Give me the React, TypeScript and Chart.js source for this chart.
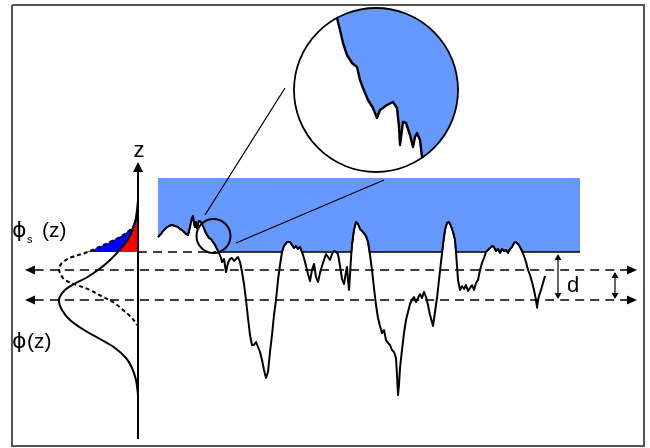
import { useEffect, useRef } from "react";
import { Chart, registerables } from "chart.js";

Chart.register(...registerables);

type P = { x: number; y: number };
const toPts = (a: number[][]): P[] => a.map(([x, y]) => ({ x, y }));

// Drawing units: x to the right, z (height) downward on screen, 650 x 448 field.
const FIELD_W = 650;
const FIELD_H = 448;

// Rough surface profile (x, screen height)
const PROFILE: number[][] = [
  [158, 237], [161, 234], [163, 231], [166, 228], [169, 226], [172, 225], [175, 226], [178, 227],
  [180, 229], [182, 230], [184, 232], [186, 234], [188, 235], [189, 231], [190, 227], [191, 222],
  [192, 218], [193, 216], [194, 224], [195, 227], [196, 222], [197, 228], [198, 224], [199, 221],
  [201, 222], [203, 226], [205, 231], [207, 235], [209, 238], [211, 239], [213, 242], [215, 245],
  [217, 249], [219, 253], [221, 258], [222, 262], [224, 259], [226, 272], [228, 263], [230, 259],
  [232, 258], [234, 261], [236, 259], [238, 257], [240, 262], [242, 272], [244, 284], [246, 300],
  [248, 318], [250, 335], [252, 345], [254, 345], [256, 342], [258, 347], [260, 352], [262, 360],
  [264, 370], [266, 378], [268, 372], [270, 352], [272, 335], [274, 315], [276, 300], [278, 280],
  [280, 265], [282, 252], [284, 246], [287, 242], [290, 242], [292, 245], [294, 248], [296, 246],
  [298, 249], [300, 247], [302, 252], [304, 258], [306, 266], [308, 274], [310, 281], [312, 270],
  [314, 264], [316, 277], [318, 282], [320, 273], [322, 266], [324, 260], [326, 254], [328, 257],
  [330, 260], [332, 254], [334, 251], [336, 252], [338, 254], [340, 266], [342, 279], [344, 284],
  [346, 272], [347, 267], [348, 280], [349, 290], [350, 275], [351, 258], [352, 245], [354, 230],
  [356, 222], [358, 224], [360, 229], [363, 232], [366, 236], [368, 242], [370, 255], [372, 270],
  [374, 288], [376, 305], [378, 318], [380, 326], [382, 333], [384, 330], [386, 340], [388, 343],
  [390, 345], [392, 350], [394, 352], [396, 358], [397, 375], [398, 395], [399, 385], [400, 368],
  [402, 350], [404, 333], [406, 320], [408, 312], [410, 304], [412, 300], [414, 297], [416, 302],
  [418, 298], [420, 294], [422, 298], [424, 292], [426, 297], [428, 305], [430, 315], [432, 322],
  [433, 326], [435, 312], [437, 298], [439, 280], [441, 262], [443, 245], [445, 230], [447, 223],
  [449, 222], [451, 226], [453, 232], [455, 240], [456, 252], [457, 266], [458, 280], [460, 290],
  [462, 286], [464, 289], [466, 285], [468, 291], [470, 288], [472, 285], [474, 290], [476, 283],
  [478, 280], [480, 270], [482, 263], [484, 258], [486, 252], [488, 250], [490, 248], [492, 246],
  [494, 247], [496, 251], [498, 249], [500, 253], [502, 249], [504, 251], [506, 250], [508, 253],
  [510, 249], [512, 247], [514, 243], [516, 242], [518, 244], [520, 247], [522, 251], [524, 256],
  [526, 262], [528, 270], [530, 275], [532, 282], [534, 290], [536, 300], [537, 308], [538, 300],
  [539, 296], [541, 290], [543, 283], [545, 276],
];

// Magnified edge inside the inset circle
const INSET_EDGE: number[][] = [
  [337, 18], [340, 30], [343, 43], [347, 55], [352, 63], [357, 67], [360, 80], [363, 88],
  [368, 100], [373, 108], [377, 118], [380, 110], [387, 105], [393, 102], [397, 108], [399, 127],
  [400, 145], [403, 122], [406, 123], [410, 135], [413, 147], [415, 137], [417, 133], [420, 140],
  [422, 157],
];

// Height distribution of the whole surface, phi(z)
const PHI: number[][] = [
  [138, 200], [137, 210], [135, 222], [130, 236], [123, 246], [116, 254], [108, 262], [98, 270],
  [86, 278], [74, 284], [64, 291], [59, 300], [62, 310], [70, 320], [84, 330], [100, 339],
  [115, 348], [126, 358], [132, 368], [136, 380], [138, 395],
];

// Height distribution of the shifted surface, phi_s(z)
const PHI_S: number[][] = [
  [138, 210], [136, 220], [132, 228], [123, 235], [110, 242], [97, 248], [85, 253], [72, 257],
  [63, 262], [59, 268], [60, 273], [65, 280], [77, 285], [90, 290], [103, 297], [113, 302],
  [123, 310], [132, 318], [137, 325],
];

// Horizontal reference levels
const FILM_LEVEL = 252;
const MEAN_UPPER = 270;
const MEAN_LOWER = 300;
const BAND_TOP = 178;
const BAND_RIGHT = 580;
const AXIS_X = 138;
const AXIS_TOP = 162;
const AXIS_BOTTOM = 439;

const BLUE = "#6699ff";
const FONT = "'Liberation Sans', Arial, 'DejaVu Sans', sans-serif";
const PHI_FONT = "'DejaVu Sans', sans-serif";

const profilePts = toPts(PROFILE);

// Profile clipped at the film level: lower edge of the blue band
function clipAtLevel(points: P[], level: number): P[] {
  const out: P[] = [];
  points.forEach((p, i) => {
    if (i > 0) {
      const q = points[i - 1];
      if ((q.y - level) * (p.y - level) < 0) {
        const t = (level - q.y) / (p.y - q.y);
        out.push({ x: q.x + t * (p.x - q.x), y: level });
      }
    }
    out.push({ x: p.x, y: Math.min(p.y, level) });
  });
  out.push({ x: BAND_RIGHT, y: level });
  return out;
}

// Part of a distribution curve above the level, closed against the z axis
function regionAbove(curve: P[], level: number, axisX: number): P[] {
  const out: P[] = [];
  for (let i = 0; i < curve.length; i++) {
    const p = curve[i];
    if (p.y <= level) {
      out.push(p);
      continue;
    }
    const q = curve[i - 1];
    const t = (level - q.y) / (p.y - q.y);
    out.push({ x: q.x + t * (p.x - q.x), y: level });
    break;
  }
  out.push({ x: axisX, y: level }, { x: axisX, y: out[0].y });
  return out;
}

const hLine = (x0: number, x1: number, y: number): P[] => [{ x: x0, y }, { x: x1, y }];

const base = {
  pointRadius: 0,
  fill: false,
  tension: 0.0001,
  borderColor: "#000",
  borderWidth: 2,
  borderJoinStyle: "round" as const,
  borderCapStyle: "butt" as const,
};

const datasets: any[] = [
  // frame
  {
    ...base,
    data: toPts([[12, 5], [644, 5], [644, 446], [12, 446], [12, 5]]),
    borderColor: "#555",
    borderWidth: 2,
    borderJoinStyle: "miter",
    order: 20,
  },
  // blue band over the surface
  {
    ...base,
    data: clipAtLevel(profilePts, FILM_LEVEL),
    fill: { value: BAND_TOP },
    backgroundColor: BLUE,
    borderWidth: 1.5,
    order: 19,
  },
  // phi_s share above the level
  {
    ...base,
    data: regionAbove(toPts(PHI_S), FILM_LEVEL, AXIS_X),
    fill: "shape",
    backgroundColor: "#0000ff",
    borderWidth: 0,
    order: 18,
  },
  // phi share above the level
  {
    ...base,
    data: regionAbove(toPts(PHI), FILM_LEVEL, AXIS_X),
    fill: "shape",
    backgroundColor: "#ff0000",
    borderWidth: 0,
    order: 17,
  },
  // phi(z)
  { ...base, data: toPts(PHI), tension: 0.35, borderWidth: 2, order: 16 },
  // phi_s(z)
  { ...base, data: toPts(PHI_S), tension: 0.35, borderWidth: 2, borderDash: [4, 3], order: 15 },
  // dashed levels
  { ...base, data: hLine(AXIS_X, 216, FILM_LEVEL), borderWidth: 1.6, borderDash: [9, 6], order: 14 },
  { ...base, data: hLine(35, 627, MEAN_UPPER), borderWidth: 1.6, borderDash: [9, 6], order: 13 },
  { ...base, data: hLine(35, 627, MEAN_LOWER), borderWidth: 1.6, borderDash: [9, 6], order: 12 },
  // z axis
  { ...base, data: toPts([[AXIS_X, AXIS_TOP + 8], [AXIS_X, AXIS_BOTTOM]]), borderWidth: 2, order: 11 },
  // d spacing markers
  { ...base, data: toPts([[558, FILM_LEVEL + 4], [558, MEAN_LOWER - 4]]), borderWidth: 1.2, order: 10 },
  { ...base, data: toPts([[615, MEAN_UPPER + 4], [615, MEAN_LOWER - 4]]), borderWidth: 1.2, order: 9 },
  // connectors from the small circle to the inset
  { ...base, data: toPts([[205, 215], [285, 88]]), borderWidth: 1.3, order: 8 },
  { ...base, data: toPts([[236, 243], [384, 180]]), borderWidth: 1.3, order: 7 },
  // surface profile
  { ...base, data: profilePts, borderWidth: 2, order: 1 },
];

// Arrowheads: tip position and direction
const ARROWS: { x: number; y: number; dir: "l" | "r" | "u" | "d"; len: number; half: number }[] = [
  { x: 25, y: MEAN_UPPER, dir: "l", len: 10, half: 4.5 },
  { x: 25, y: MEAN_LOWER, dir: "l", len: 10, half: 4.5 },
  { x: 637, y: MEAN_UPPER, dir: "r", len: 10, half: 4.5 },
  { x: 637, y: MEAN_LOWER, dir: "r", len: 10, half: 4.5 },
  { x: AXIS_X, y: AXIS_TOP, dir: "u", len: 10, half: 5 },
  { x: 558, y: FILM_LEVEL + 2, dir: "u", len: 6, half: 3.5 },
  { x: 558, y: MEAN_LOWER - 1, dir: "d", len: 6, half: 3.5 },
  { x: 615, y: MEAN_UPPER + 2, dir: "u", len: 6, half: 3.5 },
  { x: 615, y: MEAN_LOWER - 1, dir: "d", len: 6, half: 3.5 },
];

const INSET = { x: 376, y: 90, r: 82 };
const SPOT = { x: 213.5, y: 236, r: 17 };

const decorations = {
  id: "decorations",
  afterDatasetsDraw(chart: Chart) {
    const ctx = chart.ctx;
    const sx = chart.scales.x;
    const sy = chart.scales.y;
    const X = (v: number) => sx.getPixelForValue(v);
    const Y = (v: number) => sy.getPixelForValue(v);
    const unit = X(1) - X(0);

    ctx.save();

    // inset: magnified edge
    ctx.save();
    ctx.beginPath();
    ctx.arc(X(INSET.x), Y(INSET.y), INSET.r * unit, 0, Math.PI * 2);
    ctx.fillStyle = "#fff";
    ctx.fill();
    ctx.clip();
    const edge = toPts(INSET_EDGE);
    ctx.beginPath();
    edge.forEach((p, i) => (i ? ctx.lineTo(X(p.x), Y(p.y)) : ctx.moveTo(X(p.x), Y(p.y))));
    ctx.lineTo(X(480), Y(170));
    ctx.lineTo(X(480), Y(0));
    ctx.lineTo(X(330), Y(0));
    ctx.closePath();
    ctx.fillStyle = BLUE;
    ctx.fill();
    ctx.beginPath();
    edge.forEach((p, i) => (i ? ctx.lineTo(X(p.x), Y(p.y)) : ctx.moveTo(X(p.x), Y(p.y))));
    ctx.strokeStyle = "#000";
    ctx.lineWidth = 2.4;
    ctx.lineJoin = "round";
    ctx.stroke();
    ctx.restore();

    ctx.strokeStyle = "#000";
    ctx.lineWidth = 1.8;
    ctx.beginPath();
    ctx.arc(X(INSET.x), Y(INSET.y), INSET.r * unit, 0, Math.PI * 2);
    ctx.stroke();

    // small circle on the profile
    ctx.lineWidth = 2;
    ctx.beginPath();
    ctx.arc(X(SPOT.x), Y(SPOT.y), SPOT.r * unit, 0, Math.PI * 2);
    ctx.stroke();

    // arrowheads
    ctx.fillStyle = "#000";
    for (const a of ARROWS) {
      const tx = X(a.x);
      const ty = Y(a.y);
      const l = a.len * unit;
      const h = a.half * unit;
      ctx.beginPath();
      ctx.moveTo(tx, ty);
      if (a.dir === "l") { ctx.lineTo(tx + l, ty - h); ctx.lineTo(tx + l, ty + h); }
      if (a.dir === "r") { ctx.lineTo(tx - l, ty - h); ctx.lineTo(tx - l, ty + h); }
      if (a.dir === "u") { ctx.lineTo(tx - h, ty + l); ctx.lineTo(tx + h, ty + l); }
      if (a.dir === "d") { ctx.lineTo(tx - h, ty - l); ctx.lineTo(tx + h, ty - l); }
      ctx.closePath();
      ctx.fill();
    }

    // labels
    ctx.fillStyle = "#000";
    ctx.textBaseline = "alphabetic";
    ctx.font = `22px ${FONT}`;
    ctx.textAlign = "center";
    ctx.fillText("z", X(139), Y(157));
    ctx.textAlign = "left";

    // phi_s (z)
    ctx.font = `22px ${PHI_FONT}`;
    ctx.fillText("\u03D5", X(12), Y(237));
    ctx.font = `11px ${FONT}`;
    ctx.fillText("s", X(27), Y(243));
    ctx.font = `21px ${FONT}`;
    ctx.fillText("(z)", X(42), Y(237));

    // phi (z)
    ctx.font = `22px ${PHI_FONT}`;
    ctx.fillText("\u03D5", X(12), Y(348));
    ctx.font = `21px ${FONT}`;
    ctx.fillText("(z)", X(27), Y(348));

    ctx.font = `22px ${FONT}`;
    ctx.fillText("d", X(567), Y(292));

    ctx.restore();
  },
};

export default function App() {
  const ref = useRef<HTMLCanvasElement>(null);

  useEffect(() => {
    const chart = new Chart(ref.current!, {
      type: "line",
      data: { datasets },
      options: {
        animation: false,
        responsive: false,
        devicePixelRatio: 1,
        events: [],
        layout: { padding: 0 },
        plugins: { legend: { display: false }, tooltip: { enabled: false } },
        scales: {
          x: { type: "linear", min: 0, max: FIELD_W, display: false },
          y: { type: "linear", min: 0, max: FIELD_H, reverse: true, display: false },
        },
      },
      plugins: [decorations],
    });
    return () => chart.destroy();
  }, []);

  return (
    <div style={{ position: "fixed", left: 0, top: 0, width: FIELD_W, height: FIELD_H, background: "#fff" }}>
      <canvas ref={ref} width={FIELD_W} height={FIELD_H} style={{ display: "block" }} />
    </div>
  );
}
